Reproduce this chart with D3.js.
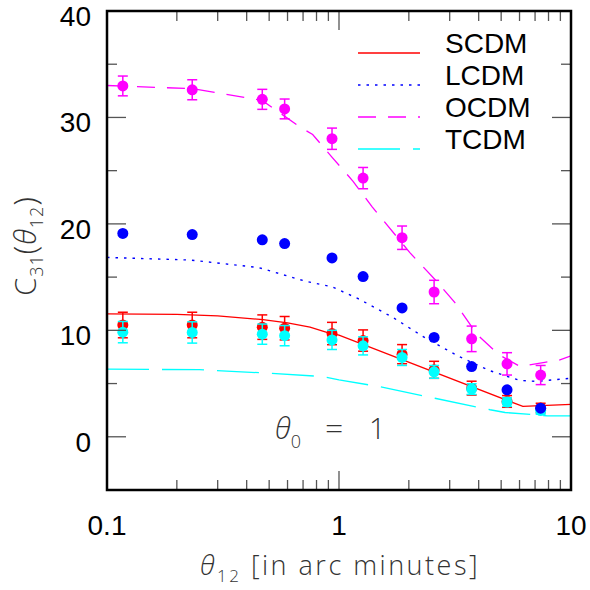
<!DOCTYPE html>
<html>
<head>
<meta charset="utf-8">
<script src="https://cdn.jsdelivr.net/npm/d3@7"></script>
<style>
  body { margin: 0; background: #fff; }
  svg { display: block; }
</style>
</head>
<body>
<svg width="590" height="590"></svg>
<script>
// angular separations of the measured points (arc minutes)
const thetaPts = [0.117, 0.233, 0.467, 0.583, 0.933, 1.27, 1.87, 2.57, 3.73, 5.3, 7.4];

// measured C31 values, one array per model
const ocdmPts = [32.96, 32.6, 31.7, 30.8, 28.0, 24.3, 18.7, 13.6, 9.2, 6.85, 5.8];
const ocdmErr = [0.93, 0.94, 0.94, 0.93, 1.0, 1.0, 1.1, 1.1, 1.2, 1.05, 0.9];
const lcdmPts = [19.1, 19.0, 18.5, 18.15, 16.8, 15.05, 12.1, 9.33, 6.6, 4.41, 2.69];
const scdmPts = [10.5, 10.5, 10.3, 10.2, 9.7, 9.04, 7.76, 6.29, 4.57, 3.32, 2.7];
const scdmErr = [1.2, 1.2, 1.15, 1.1, 1.05, 1.0, 0.9, 0.8, 0.65, 0.55, 0.45];
const tcdmPts = [9.83, 9.8, 9.64, 9.5, 9.1, 8.54, 7.45, 6.1, 4.48, 3.26, 2.47];
const tcdmErr = [1.0, 1.0, 0.95, 0.95, 0.9, 0.85, 0.75, 0.6, 0.5, 0.4, 0.35];

// model curves
const scdmX = [0.1, 0.2, 0.3, 0.47, 0.6, 0.75, 0.9, 1.0, 6.2, 10];
const scdmY = [11.55, 11.5, 11.35, 11.0, 10.7, 10.3, 9.75, 9.55, 2.85, 3.05];
const lcdmX = [0.1, 0.23, 0.45, 0.72, 0.93, 1.23, 1.71, 2.39, 3.32, 4.48, 6.0, 7.1, 10];
const lcdmY = [16.85, 16.6, 15.9, 14.6, 14.1, 12.9, 11.2, 9.2, 7.5, 6.2, 5.3, 5.2, 5.5];
const ocdmX = [0.1, 0.233, 0.466, 0.69, 0.77, 0.93, 1.15, 1.39, 2.02, 2.61, 3.16, 3.94, 4.9, 6.03, 7.7, 8.9, 10];
const ocdmY = [33.0, 32.7, 31.6, 29.0, 28.4, 26.3, 24.0, 21.6, 17.3, 14.7, 12.6, 9.6, 7.7, 6.6, 7.0, 7.2, 7.6];
const tcdmX = [0.1, 0.25, 0.47, 0.85, 1.0, 1.5, 2.59, 4.48, 5.2, 7.9, 10];
const tcdmY = [6.35, 6.3, 6.0, 5.66, 5.35, 4.7, 3.62, 2.54, 2.28, 1.97, 1.97];

const legendNames = ["SCDM", "LCDM", "OCDM", "TCDM"];
const xTickLabels = [0.1, 1, 10];
const yTickLabels = [0, 10, 20, 30, 40];

const mLeft = 107, mRight = 571, mTop = 11, mBottom = 490;

const x = d3.scaleLog().domain([0.1, 10]).range([mLeft, mRight]);
const y = d3.scaleLinear().domain([-5, 40]).range([mBottom, mTop]);

const svg = d3.select("svg");
const font = "'Liberation Sans', Arial, sans-serif";

const line = d3.line()
  .x(d => x(d[0]))
  .y(d => y(d[1]));

const curves = [
  { xs: scdmX, ys: scdmY, color: "#ff0000", dash: null, width: 1.3 },
  { xs: lcdmX, ys: lcdmY, color: "#0000ff", dash: "2.5,6", width: 1.4 },
  { xs: ocdmX, ys: ocdmY, color: "#ff00ff", dash: "18,12", width: 1.3 },
  { xs: tcdmX, ys: tcdmY, color: "#00ffff", dash: "42,13", width: 1.3 }
];

const plot = svg.append("g");
plot.append("clipPath").attr("id", "clip")
  .append("rect").attr("x", mLeft).attr("y", mTop)
  .attr("width", mRight - mLeft).attr("height", mBottom - mTop);

// model lines
plot.append("g").attr("clip-path", "url(#clip)")
  .selectAll("path")
  .data(curves)
  .enter()
  .append("path")
  .attr("d", c => line(c.xs.map((v, i) => [v, c.ys[i]])))
  .attr("fill", "none")
  .attr("stroke", c => c.color)
  .attr("stroke-width", c => c.width)
  .attr("stroke-dasharray", c => c.dash);

// points with error bars; draw order red, cyan, magenta, blue
const series = [
  { vals: scdmPts, err: scdmErr, color: "#ff0000" },
  { vals: tcdmPts, err: tcdmErr, color: "#00ffff" },
  { vals: ocdmPts, err: ocdmErr, color: "#ff00ff" },
  { vals: lcdmPts, err: null, color: "#0000ff" }
];

series.forEach(function (s) {
  const g = plot.append("g");
  const pts = thetaPts.map((t, i) => ({ t: t, v: s.vals[i], e: s.err ? s.err[i] : 0 }));
  if (s.err) {
    const eb = g.selectAll("g.eb").data(pts).enter().append("g")
      .attr("stroke", s.color).attr("stroke-width", 1.5);
    eb.append("line")
      .attr("x1", d => x(d.t)).attr("x2", d => x(d.t))
      .attr("y1", d => y(d.v - d.e)).attr("y2", d => y(d.v + d.e));
    [-1, 1].forEach(function (sgn) {
      eb.append("line")
        .attr("x1", d => x(d.t) - 5).attr("x2", d => x(d.t) + 5)
        .attr("y1", d => y(d.v + sgn * d.e)).attr("y2", d => y(d.v + sgn * d.e));
    });
  }
  g.selectAll("circle").data(pts).enter().append("circle")
    .attr("cx", d => x(d.t))
    .attr("cy", d => y(d.v))
    .attr("r", 5.5)
    .attr("fill", s.color);
});

// ticks on all four sides, pointing inward
const tickColor = "#555";
const xMajor = [0.1, 1, 10];
const xMinor = [];
[0.1, 1].forEach(function (dec) {
  for (let k = 2; k <= 9; k++) xMinor.push(dec * k);
});
const yMajor = d3.range(-5, 41, 5);

const ticks = plot.append("g").attr("stroke", tickColor).attr("stroke-width", 1.3);
xMinor.concat(xMajor).forEach(function (v) {
  const len = xMajor.includes(v) ? 19 : 10;
  ticks.append("line").attr("x1", x(v)).attr("x2", x(v)).attr("y1", mBottom).attr("y2", mBottom - len);
  ticks.append("line").attr("x1", x(v)).attr("x2", x(v)).attr("y1", mTop).attr("y2", mTop + len);
});
yMajor.forEach(function (v) {
  const len = v % 10 === 0 ? 19 : 10;
  ticks.append("line").attr("x1", mLeft).attr("x2", mLeft + len).attr("y1", y(v)).attr("y2", y(v));
  ticks.append("line").attr("x1", mRight).attr("x2", mRight - len).attr("y1", y(v)).attr("y2", y(v));
});

// frame
plot.append("rect")
  .attr("x", mLeft).attr("y", mTop)
  .attr("width", mRight - mLeft).attr("height", mBottom - mTop)
  .attr("fill", "none")
  .attr("stroke", "#000")
  .attr("stroke-width", 2.5);

// tick labels
svg.append("g").selectAll("text")
  .data(xTickLabels)
  .enter()
  .append("text")
  .attr("x", d => x(d))
  .attr("y", 535)
  .attr("text-anchor", "middle")
  .attr("font-family", font)
  .attr("font-size", 28)
  .text(d => d);

svg.append("g").selectAll("text")
  .data(yTickLabels)
  .enter()
  .append("text")
  .attr("x", 91)
  .attr("y", d => y(d) + 15)
  .attr("text-anchor", "end")
  .attr("font-family", font)
  .attr("font-size", 28)
  .text(d => d);

// legend
const legend = svg.append("g");
legendNames.forEach(function (name, i) {
  const ly = 53 + i * 32;
  const c = curves[i];
  legend.append("line")
    .attr("x1", 358).attr("x2", 420).attr("y1", ly).attr("y2", ly)
    .attr("stroke", c.color)
    .attr("stroke-width", c.width)
    .attr("stroke-dasharray", c.dash);
  legend.append("text")
    .attr("x", 445).attr("y", ly)
    .attr("font-family", font)
    .attr("font-size", 28)
    .text(name);
});

// axis titles
const thin = "'Open Sans', 'Liberation Sans', sans-serif";
const yl = svg.append("text")
  .attr("transform", "translate(36,246) rotate(-90)")
  .attr("text-anchor", "middle")
  .attr("font-family", thin)
  .attr("font-weight", 300)
  .attr("font-size", 29)
  .attr("letter-spacing", 1)
  .attr("fill", "#333");
yl.append("tspan").text("C");
yl.append("tspan").attr("font-size", 18).attr("dy", 7).text("31");
yl.append("tspan").attr("dy", -7).attr("font-size", 31).text("(");
yl.append("tspan").attr("font-style", "italic").text("θ");
yl.append("tspan").attr("font-size", 18).attr("dy", 7).text("12");
yl.append("tspan").attr("dy", -7).attr("font-size", 31).text(")");

const xl = svg.append("text")
  .attr("x", 340).attr("y", 575)
  .attr("text-anchor", "middle")
  .attr("font-family", thin)
  .attr("font-weight", 300)
  .attr("font-size", 27)
  .attr("letter-spacing", 2.5)
  .attr("fill", "#333");
xl.append("tspan").attr("font-style", "italic").text("θ");
xl.append("tspan").attr("font-size", 17).attr("dy", 7).text("12");
xl.append("tspan").attr("dy", -7).text(" [in arc minutes]");

// annotation
const ann = svg.append("text")
  .attr("y", 439)
  .attr("font-family", thin)
  .attr("font-weight", 300)
  .attr("font-size", 29)
  .attr("fill", "#333");
ann.append("tspan").attr("x", 275).attr("font-style", "italic").text("θ");
ann.append("tspan").attr("font-size", 18).attr("dy", 9).text("0");
ann.append("tspan").attr("x", 325).attr("dy", -9).attr("font-size", 32).text("=");
ann.append("tspan").attr("x", 369).text("1");
</script>
</body>
</html>
